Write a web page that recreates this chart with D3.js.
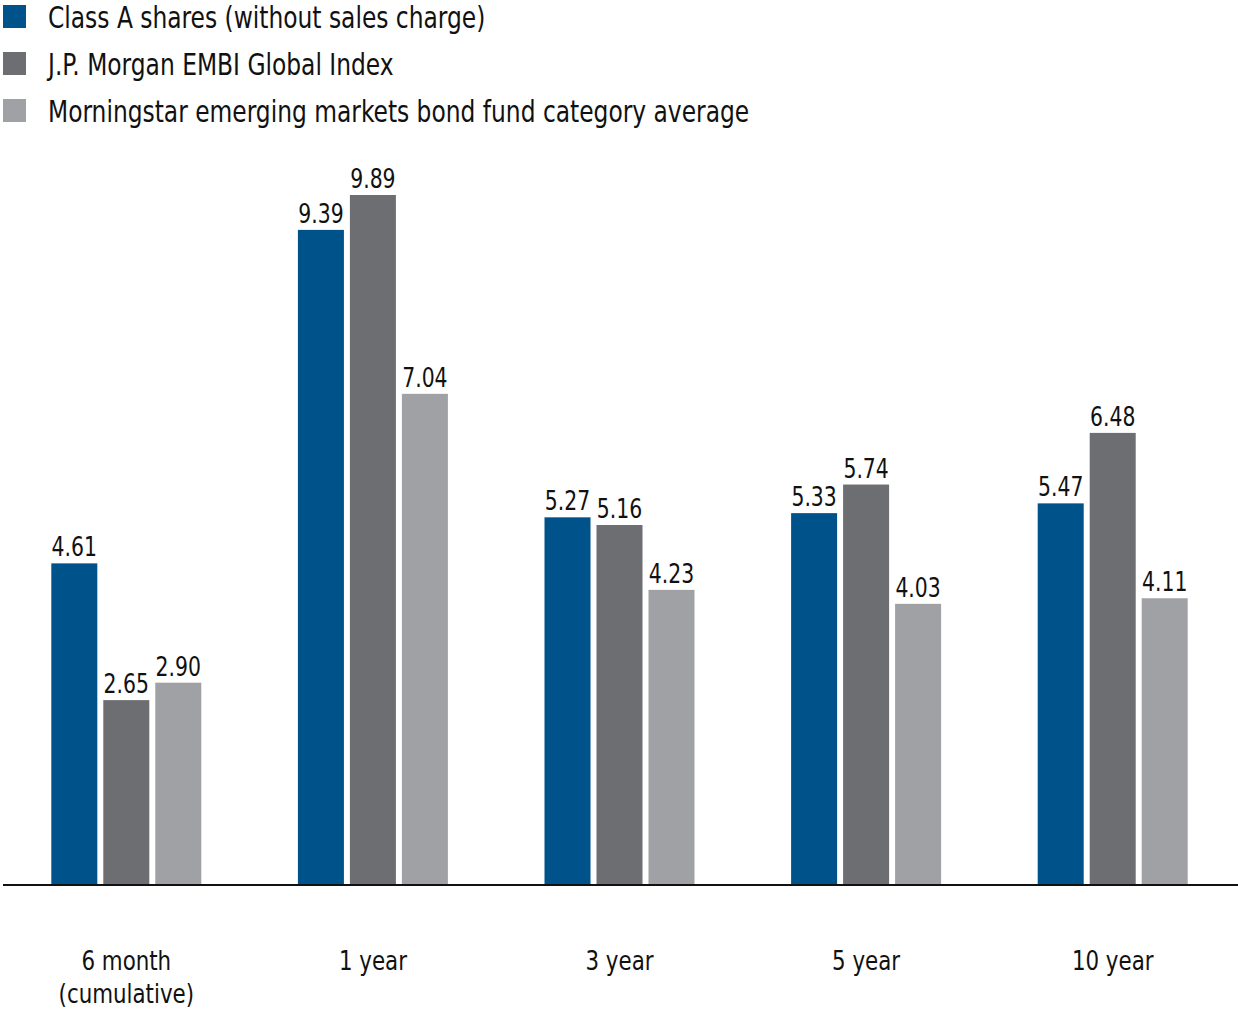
<!DOCTYPE html>
<html><head><meta charset="utf-8">
<script src="https://cdnjs.cloudflare.com/ajax/libs/d3/7.8.5/d3.min.js"></script>
<style>
body{margin:0;background:#fff;}
text{font-family:"DejaVu Sans Condensed","Liberation Sans Narrow",sans-serif;fill:#111;}
</style></head><body>
<svg id="c" width="1238" height="1010"></svg>
<script>
const categories = ["6 month\n(cumulative)", "1 year", "3 year", "5 year", "10 year"];
const seriesNames = ["Class A shares (without sales charge)", "J.P. Morgan EMBI Global Index", "Morningstar emerging markets bond fund category average"];
const classA = [4.61, 9.39, 5.27, 5.33, 5.47];
const embi = [2.65, 9.89, 5.16, 5.74, 6.48];
const morningstar = [2.90, 7.04, 4.23, 4.03, 4.11];
const colors = ["#00538a", "#6d6e71", "#a0a1a4"];

const series = [classA, embi, morningstar];
const svg = d3.select("#c");
const baseY = 885;
const x0 = d3.scaleBand().domain(d3.range(categories.length)).range([3, 1236]).paddingInner(0).paddingOuter(0);
const x1 = d3.scaleBand().domain([0,1,2]).range([0, 150]).paddingInner(0.115);
const y = d3.scaleLinear().domain([0, 9.89]).range([baseY, 195]);

function txt(parent, x, yy, s, size, sx, anchor){
  return parent.append("text").attr("transform",`translate(${x},${yy}) scale(${sx},1)`)
    .attr("text-anchor",anchor||"start").attr("font-size",size).text(s);
}

// legend
const leg = svg.append("g");
seriesNames.forEach((n,i)=>{
  leg.append("rect").attr("x",3).attr("y",5+i*47).attr("width",23).attr("height",23).attr("fill",colors[i]);
  txt(leg, 48, 28+i*47, n, 30, 0.866);
});

const groups = svg.append("g").selectAll("g").data(categories).join("g")
  .attr("transform",(d,i)=>`translate(${x0(i)+x0.bandwidth()/2-75},0)`);
groups.each(function(d,ci){
  const g = d3.select(this);
  series.forEach((s,si)=>{
    g.append("rect").attr("x",x1(si)).attr("width",x1.bandwidth())
      .attr("y",y(s[ci])).attr("height",baseY-y(s[ci])).attr("fill",colors[si]);
    txt(g, x1(si)+x1.bandwidth()/2, y(s[ci])-7, s[ci].toFixed(2), 27, 0.84, "middle");
  });
});

svg.append("line").attr("x1",3).attr("x2",1238).attr("y1",baseY).attr("y2",baseY).attr("stroke","#111").attr("stroke-width",2);

const xl = svg.append("g");
categories.forEach((c,i)=>{
  c.split("\n").forEach((line,li)=>{
    txt(xl, x0(i)+x0.bandwidth()/2, 970+li*33, line, 27, 0.88, "middle");
  });
});
</script></body></html>
